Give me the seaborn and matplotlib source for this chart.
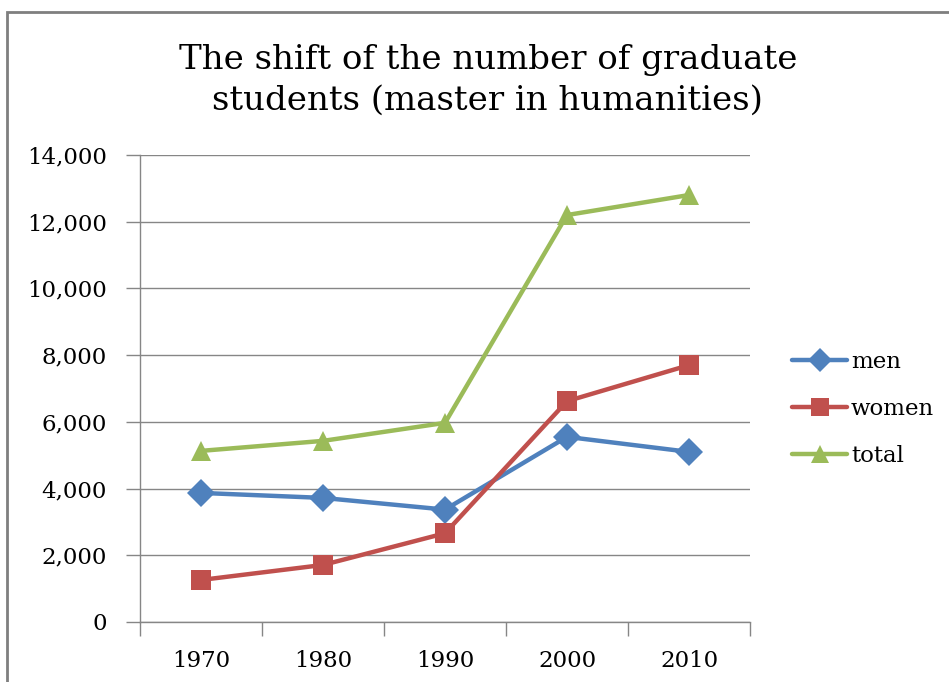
import matplotlib
matplotlib.use("Agg")
import matplotlib.pyplot as plt
import matplotlib.patches as mpatches
import pandas as pd
import seaborn as sns

# data
years = ["1970", "1980", "1990", "2000", "2010"]
men = [3870, 3720, 3370, 5550, 5100]
women = [1260, 1710, 2660, 6620, 7700]
total = [5130, 5430, 5970, 12200, 12800]

series_names = ["men", "women", "total"]
colors = {"men": "#4F81BD", "women": "#C0504D", "total": "#9BBB59"}
markers = {"men": "D", "women": "s", "total": "^"}

df = pd.DataFrame({
    "year": years * 3,
    "value": men + women + total,
    "series": [s for s in series_names for _ in years],
})

sns.set_theme(style="white")
plt.rcParams["font.family"] = ["DejaVu Serif"]
plt.rcParams["text.color"] = "black"

fig = plt.figure(figsize=(9.49, 6.82), dpi=100)
ax = fig.add_axes([140 / 949, 1 - 622 / 682, 610 / 949, 467 / 682])

sns.lineplot(
    data=df, x="year", y="value", hue="series", style="series",
    palette=colors, markers=markers, dashes=False, linewidth=3.2,
    markersize=14, markeredgewidth=0, ax=ax, sort=False,
)

ax.set_xlim(-0.5, len(years) - 0.5)
ax.set_ylim(0, 14000)
ax.set_yticks(range(0, 14001, 2000))
ax.set_yticklabels([f"{v:,}" for v in range(0, 14001, 2000)])
ax.set_xticks(range(len(years)))
ax.set_xticklabels(years)
ax.set_xticks([i - 0.5 for i in range(len(years) + 1)], minor=True)
ax.tick_params(axis="x", which="major", length=0, pad=20, labelsize=16.5,
               labelcolor="black")
ax.tick_params(axis="x", which="minor", length=10, color="#868686", width=1,
               direction="out", bottom=True)
ax.tick_params(axis="y", length=10, color="#868686", width=1, direction="out",
               left=True, pad=14, labelsize=16.5, labelcolor="black")
ax.set_xlabel("")
ax.set_ylabel("")
ax.yaxis.grid(True, color="#868686", linewidth=1)
ax.set_axisbelow(True)
for side in ["top", "right"]:
    ax.spines[side].set_visible(False)
for side in ["left", "bottom"]:
    ax.spines[side].set_color("#868686")
    ax.spines[side].set_linewidth(1)

fig.text(0.514, 1 - 80 / 682, "The shift of the number of graduate\nstudents (master in humanities)",
         ha="center", va="center", fontsize=24.5, linespacing=1.35, color="black")

handles, labels = ax.get_legend_handles_labels()
ax.legend(handles, labels, loc="center left", bbox_to_anchor=(781 / 949, 1 - 409 / 682),
          bbox_transform=fig.transFigure, frameon=False, fontsize=16.5,
          handlelength=2.4, handletextpad=0.15, labelspacing=1.1, borderpad=0,
          markerscale=0.9)

# outer border of the chart area
fig.patches.append(mpatches.Rectangle((7 / 949, -0.1), 1.2, 1.1 - 12 / 682,
                                      transform=fig.transFigure, fill=False,
                                      edgecolor="#7f7f7f", linewidth=2))

fig.savefig("out.png", dpi=100)
